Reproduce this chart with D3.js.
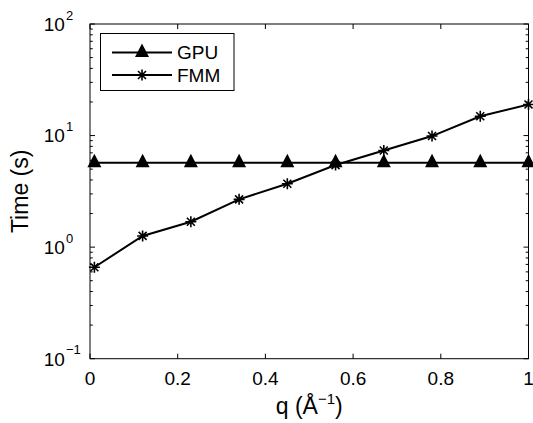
<!DOCTYPE html>
<html><head><meta charset="utf-8">
<script src="https://cdn.jsdelivr.net/npm/d3@7"></script>
<style>body{margin:0;background:#fff}svg{display:block}text{font-family:"Liberation Sans",Arial,Helvetica,sans-serif;fill:#000}</style>
</head><body>
<script>
const q = [0.01, 0.12, 0.23, 0.34, 0.45, 0.56, 0.67, 0.78, 0.89, 1.0];
const gpu = [5.7, 5.7, 5.7, 5.7, 5.7, 5.7, 5.7, 5.7, 5.7, 5.7];
const fmm = [0.66, 1.26, 1.69, 2.68, 3.70, 5.44, 7.34, 9.9, 14.9, 19.0];
const xTicks = [0, 0.2, 0.4, 0.6, 0.8, 1];
const xTickLabels = ["0", "0.2", "0.4", "0.6", "0.8", "1"];
const yTicks = [0.1, 1, 10, 100];
const yExponents = ["\u22121", "0", "1", "2"];
const seriesNames = ["GPU", "FMM"];

const W = 533, H = 423;
const L = 90, R = 528.5, T = 24, B = 358.7;
const svg = d3.select("body").append("svg").attr("width", W).attr("height", H);
svg.append("rect").attr("width", W).attr("height", H).attr("fill", "#fff");

const x = d3.scaleLinear().domain([0, 1]).range([L, R]);
const y = d3.scaleLog().domain([0.1, 100]).range([B, T]);

const g = svg.append("g");
const major = 5, minor = 2.8;
xTicks.forEach(t => {
  g.append("line").attr("x1", x(t)).attr("x2", x(t)).attr("y1", B).attr("y2", B - major).attr("stroke", "#000");
  g.append("line").attr("x1", x(t)).attr("x2", x(t)).attr("y1", T).attr("y2", T + major).attr("stroke", "#000");
});
const minorTicks = [];
for (let e = -1; e < 2; e++) for (let k = 2; k <= 9; k++) minorTicks.push(k * Math.pow(10, e));
minorTicks.forEach(t => {
  g.append("line").attr("x1", L).attr("x2", L + minor).attr("y1", y(t)).attr("y2", y(t)).attr("stroke", "#000");
  g.append("line").attr("x1", R).attr("x2", R - minor).attr("y1", y(t)).attr("y2", y(t)).attr("stroke", "#000");
});
yTicks.forEach(t => {
  g.append("line").attr("x1", L).attr("x2", L + major).attr("y1", y(t)).attr("y2", y(t)).attr("stroke", "#000");
  g.append("line").attr("x1", R).attr("x2", R - major).attr("y1", y(t)).attr("y2", y(t)).attr("stroke", "#000");
});
g.append("rect").attr("x", L).attr("y", T).attr("width", R - L).attr("height", B - T)
  .attr("fill", "none").attr("stroke", "#000").attr("stroke-width", 1);

xTicks.forEach((t, i) => {
  svg.append("text").attr("x", x(t)).attr("y", 384.5).attr("text-anchor", "middle")
    .attr("font-size", 19).text(xTickLabels[i]);
});
yTicks.forEach((t, i) => {
  svg.append("text").attr("x", 64.8).attr("y", y(t) + 6.8).attr("text-anchor", "end")
    .attr("font-size", 19).text("10");
  svg.append("text").attr("x", 66).attr("y", y(t) - 4.5).attr("text-anchor", "start")
    .attr("font-size", 13).text(yExponents[i]);
});

const xl = svg.append("text").attr("x", (L + R) / 2).attr("y", 414).attr("text-anchor", "middle").attr("font-size", 23);
xl.append("tspan").text("q (\u00C5");
xl.append("tspan").attr("font-size", 15).attr("dy", -10).text("\u22121");
xl.append("tspan").attr("dy", 10).text(")");
svg.append("text").attr("transform", `translate(28,${(T + B) / 2}) rotate(-90)`).attr("text-anchor", "middle")
  .attr("font-size", 23).text("Time (s)");

const line = d3.line().x(d => x(d[0])).y(d => y(d[1]));
const gpuData = q.map((v, i) => [v, gpu[i]]);
const fmmData = q.map((v, i) => [v, fmm[i]]);
svg.append("path").datum(gpuData).attr("d", line).attr("fill", "none").attr("stroke", "#000").attr("stroke-width", 2);
svg.append("path").datum(fmmData).attr("d", line).attr("fill", "none").attr("stroke", "#000").attr("stroke-width", 2);

function tri(sel, cx, cy) {
  sel.append("path").attr("d", `M${cx},${cy - 9}L${cx + 7},${cy + 4.5}L${cx - 7},${cy + 4.5}Z`).attr("fill", "#000");
}
function star(sel, cx, cy) {
  const r = 5.5, d = 4;
  sel.append("path").attr("d",
    `M${cx - r},${cy}L${cx + r},${cy}M${cx},${cy - r}L${cx},${cy + r}M${cx - d},${cy - d}L${cx + d},${cy + d}M${cx - d},${cy + d}L${cx + d},${cy - d}`)
    .attr("stroke", "#000").attr("stroke-width", 1.6).attr("fill", "none");
}
gpuData.forEach(d => tri(svg, x(d[0]), y(d[1])));
fmmData.forEach(d => star(svg, x(d[0]), y(d[1])));

const lg = svg.append("g");
lg.append("rect").attr("x", 100.5).attr("y", 33.5).attr("width", 133.5).attr("height", 57)
  .attr("fill", "#fff").attr("stroke", "#000").attr("stroke-width", 1);
const rows = [52.5, 75];
rows.forEach((ry, i) => {
  lg.append("line").attr("x1", 112).attr("x2", 172).attr("y1", ry).attr("y2", ry).attr("stroke", "#000").attr("stroke-width", 2);
  if (i === 0) tri(lg, 142, ry); else star(lg, 142, ry);
  lg.append("text").attr("x", 177).attr("y", ry + 6.8).attr("font-size", 19).text(seriesNames[i]);
});
</script>
</body></html>
